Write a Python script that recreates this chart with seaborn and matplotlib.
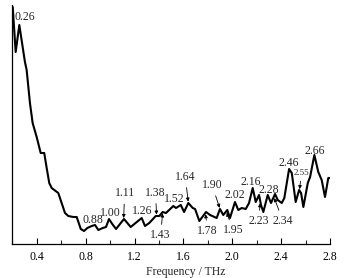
import numpy as np
import pandas as pd
import matplotlib
matplotlib.use("Agg")
import matplotlib.pyplot as plt
from matplotlib.ticker import MultipleLocator
import seaborn as sns

# %% data (absorption in arbitrary units)
freq = [0.202, 0.226, 0.256, 0.302, 0.316, 0.343, 0.365, 0.398, 0.431, 0.460,
        0.480, 0.501, 0.521, 0.575, 0.630, 0.657, 0.698, 0.726, 0.759, 0.786,
        0.813, 0.849, 0.876, 0.903, 0.939, 0.966, 0.990, 1.017, 1.048, 1.113,
        1.168, 1.258, 1.285, 1.320, 1.373, 1.402, 1.430, 1.457, 1.517, 1.539,
        1.578, 1.605, 1.640, 1.676, 1.695, 1.730, 1.785, 1.818, 1.872, 1.899,
        1.926, 1.959, 1.981, 2.022, 2.049, 2.077, 2.110, 2.137, 2.167, 2.192,
        2.219, 2.235, 2.254, 2.290, 2.317, 2.350, 2.372, 2.405, 2.426, 2.465,
        2.487, 2.519, 2.547, 2.563, 2.582, 2.618, 2.637, 2.672, 2.704, 2.732,
        2.759, 2.786, 2.800]
absorb = [23.7, 19.2, 21.9, 18.2, 17.4, 14.1, 12.1, 10.7, 9.1, 9.1,
          7.6, 6.1, 5.6, 5.1, 3.1, 2.8, 2.7, 2.7, 1.5, 1.3,
          1.6, 1.8, 1.9, 1.4, 1.6, 1.7, 2.5, 2.0, 1.5, 2.5,
          1.7, 2.6, 1.8, 2.1, 2.8, 2.8, 3.2, 3.1, 3.8, 3.6,
          3.9, 3.2, 4.1, 3.6, 3.5, 2.3, 3.2, 2.9, 2.6, 3.5,
          2.9, 3.4, 2.6, 4.2, 3.4, 3.6, 3.5, 4.1, 5.6, 4.2,
          4.9, 3.9, 3.2, 4.9, 4.1, 5.0, 4.4, 4.1, 4.6, 7.5,
          7.1, 4.2, 5.4, 5.1, 3.7, 6.1, 6.7, 8.9, 7.2, 6.4,
          4.7, 6.6, 6.6]

peak_labels = ["0.26", "0.88", "1.00", "1.11", "1.26", "1.38", "1.43", "1.52",
               "1.64", "1.78", "1.90", "1.95", "2.02", "2.16", "2.23", "2.28",
               "2.34", "2.46", "2.55", "2.66"]

# label placement (offset in pixels from the peak) and whether an arrow is drawn
label_dx = [5, -3, 0, 1, 0, -1, -2, 1, -3, 2, -8, 7, 0, -1, -2, 2, 9, 0, 2, 2]
label_dy = [11, 6, 8, 26, 8, 23, -23, 7, 26, -18, 24, -19, 8, 10, -19, 10, -24, 10, 18, 12]
has_arrow = [False, False, False, True, False, True, True, False,
             True, True, True, True, False, False, True, False,
             True, False, True, False]

df = pd.DataFrame({"Frequency": freq, "Absorption": absorb})

# %% figure
sns.set_style("ticks")
plt.rcParams["font.family"] = ["Liberation Serif", "DejaVu Serif"]

fig = plt.figure(figsize = (3.44, 2.78), dpi = 100)
ax = fig.add_axes([0.0363, 0.1223, 0.9230, 0.8597])

sns.lineplot(data = df, x = "Frequency", y = "Absorption", color = "black",
             linewidth = 1.5, ax = ax)

ax.set_xlim(0.2, 2.8)
ax.set_ylim(0, 23.9)
ax.xaxis.set_minor_locator(MultipleLocator(0.2))
ax.set_xticks(np.arange(0.4, 2.81, 0.4))
ax.set_xticklabels([f"{t:.1f}" for t in np.arange(0.4, 2.81, 0.4)])
ax.set_yticks([])
ax.tick_params(axis = "x", which = "major", direction = "in", length = 4, width = 0.8,
               labelsize = 8.5, pad = 5, colors = "black")
ax.tick_params(axis = "x", which = "minor", direction = "in", length = 3, width = 0.8)
ax.set_xlabel("Frequency / THz", fontsize = 8.5, va = "center")
ax.xaxis.set_label_coords(0.546, -0.116)
ax.set_ylabel("")
for s in ["left", "bottom"]:
    ax.spines[s].set_linewidth(0.9)
    ax.spines[s].set_color("black")
sns.despine(ax = ax)

for lab, dx, dy, arr in zip(peak_labels, label_dx, label_dy, has_arrow):
    f = float(lab)
    y = np.interp(f, freq, absorb)
    size = 6.5 if lab == "2.55" else 8.5
    props = None
    if arr:
        props = dict(arrowstyle = "-|>", color = "black", lw = 0.6,
                     mutation_scale = 5, shrinkA = 1, shrinkB = 1)
    ax.annotate(lab, xy = (f, y), xytext = (dx, dy), textcoords = "offset pixels",
                ha = "center", va = "center", fontsize = size, arrowprops = props)

fig.savefig("out.png", dpi = 100)
